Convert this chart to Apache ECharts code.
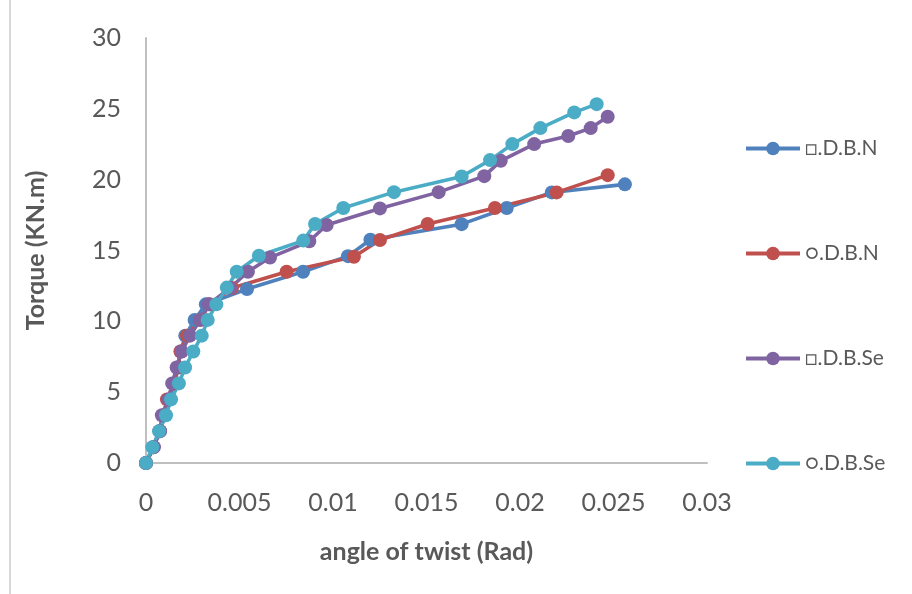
<!DOCTYPE html>
<html>
<head>
<meta charset="utf-8">
<script src="https://cdn.jsdelivr.net/npm/echarts@6/dist/echarts.min.js"></script>
<style>
html,body{margin:0;padding:0;background:#fff;}
#frame{position:absolute;left:9px;top:0;width:920px;height:600px;border-left:2px solid #d9d9d9;box-sizing:border-box;}
#chart{position:absolute;left:0;top:0;width:912px;height:594px;}
</style>
</head>
<body>
<div id="frame"></div>
<div id="chart"></div>
<script>
// Series names
const seriesNames = ['\u25A1.D.B.N', '\u25CB.D.B.N', '\u25A1.D.B.Se', '\u25CB.D.B.Se'];

// Angle of twist (rad) and torque (kN.m) per series
const sqDBN_angle  = [0, 0.0004, 0.00075, 0.0010, 0.00125, 0.00155, 0.0017, 0.00185, 0.0021, 0.0026, 0.0032, 0.0054, 0.0084, 0.0108, 0.0120, 0.01688, 0.01929, 0.0217, 0.02561];
const sqDBN_torque = [0, 1.12, 2.25, 3.37, 4.49, 5.62, 6.74, 7.87, 8.99, 10.1, 11.2, 12.28, 13.5, 14.6, 15.76, 16.86, 18.0, 19.1, 19.67];

const ciDBN_angle  = [0, 0.0004, 0.00072, 0.00095, 0.00112, 0.0015, 0.0017, 0.00185, 0.0022, 0.0029, 0.0034, 0.0046, 0.00752, 0.01112, 0.01251, 0.01506, 0.01866, 0.02196, 0.02469];
const ciDBN_torque = [0, 1.12, 2.25, 3.37, 4.49, 5.62, 6.74, 7.87, 8.99, 10.1, 11.2, 12.35, 13.5, 14.56, 15.74, 16.87, 18.0, 19.1, 20.32];

const sqDBSe_angle  = [0, 0.00042, 0.00075, 0.00085, 0.0012, 0.0014, 0.00164, 0.00191, 0.00235, 0.0029, 0.00335, 0.0045, 0.00545, 0.00663, 0.00873, 0.00966, 0.01251, 0.01565, 0.01809, 0.01897, 0.02076, 0.02258, 0.02378, 0.02469];
const sqDBSe_torque = [0, 1.12, 2.25, 3.37, 4.49, 5.62, 6.74, 7.87, 8.99, 10.1, 11.2, 12.35, 13.5, 14.5, 15.65, 16.8, 17.97, 19.12, 20.25, 21.33, 22.51, 23.08, 23.64, 24.44];

const ciDBSe_angle  = [0, 0.00034, 0.0007, 0.00107, 0.00134, 0.00176, 0.00209, 0.00253, 0.00298, 0.0033, 0.00376, 0.00432, 0.00485, 0.00604, 0.00841, 0.00904, 0.01055, 0.01326, 0.01688, 0.0184, 0.01959, 0.02109, 0.0229, 0.0241];
const ciDBSe_torque = [0, 1.12, 2.25, 3.37, 4.49, 5.62, 6.74, 7.87, 8.99, 10.1, 11.2, 12.38, 13.5, 14.63, 15.7, 16.87, 18.0, 19.12, 20.22, 21.38, 22.51, 23.64, 24.75, 25.33];

// Axis tick labels
const xTicks = [0, 0.005, 0.01, 0.015, 0.02, 0.025, 0.03];
const yTicks = [0, 5, 10, 15, 20, 25, 30];

const colors = ['#4F81BD', '#C0504D', '#8064A2', '#4BACC6'];
const pairs = [
  [sqDBN_angle, sqDBN_torque],
  [ciDBN_angle, ciDBN_torque],
  [sqDBSe_angle, sqDBSe_torque],
  [ciDBSe_angle, ciDBSe_torque]
];

const FONT = 'Lato, "Open Sans", sans-serif';

const chart = echarts.init(document.getElementById('chart'));
chart.setOption({
  animation: false,
  color: colors,
  grid: { left: 146, right: 205, top: 38, bottom: 131, containLabel: false },
  xAxis: {
    type: 'value',
    min: xTicks[0], max: xTicks[xTicks.length - 1], interval: 0.005,
    name: 'angle of twist (Rad)',
    nameLocation: 'middle', nameGap: 76,
    nameTextStyle: { fontFamily: FONT, fontSize: 25, fontWeight: 'bold', color: '#595959' },
    axisLine: { show: true, lineStyle: { color: '#bfbfbf', width: 2 } },
    axisTick: { show: false },
    splitLine: { show: false },
    axisLabel: { fontFamily: FONT, fontSize: 25, color: '#595959', margin: 27,
      formatter: v => String(parseFloat(v.toFixed(3))) }
  },
  yAxis: {
    type: 'value',
    min: yTicks[0], max: yTicks[yTicks.length - 1], interval: 5,
    name: 'Torque (KN.m)',
    nameLocation: 'middle', nameGap: 98, nameRotate: 90,
    nameTextStyle: { fontFamily: FONT, fontSize: 25, fontWeight: 'bold', color: '#595959' },
    axisLine: { show: true, lineStyle: { color: '#bfbfbf', width: 2 } },
    axisTick: { show: false },
    splitLine: { show: false },
    axisLabel: { fontFamily: FONT, fontSize: 25, color: '#595959', margin: 25 }
  },
  legend: {
    orient: 'vertical',
    left: 744, top: 138,
    padding: 0,
    itemWidth: 54, itemHeight: 17,
    itemGap: 84,
    lineStyle: { width: 4 },
    textStyle: { fontFamily: FONT, fontSize: 21, lineHeight: 20, color: '#595959' },
    data: seriesNames
  },
  series: pairs.map((p, i) => ({
    name: seriesNames[i],
    type: 'line',
    data: p[0].map((x, j) => [x, p[1][j]]),
    symbol: 'circle',
    symbolSize: 14,
    showAllSymbol: true,
    lineStyle: { width: 3.6, color: colors[i] },
    itemStyle: { color: colors[i] }
  }))
});
</script>
</body>
</html>
